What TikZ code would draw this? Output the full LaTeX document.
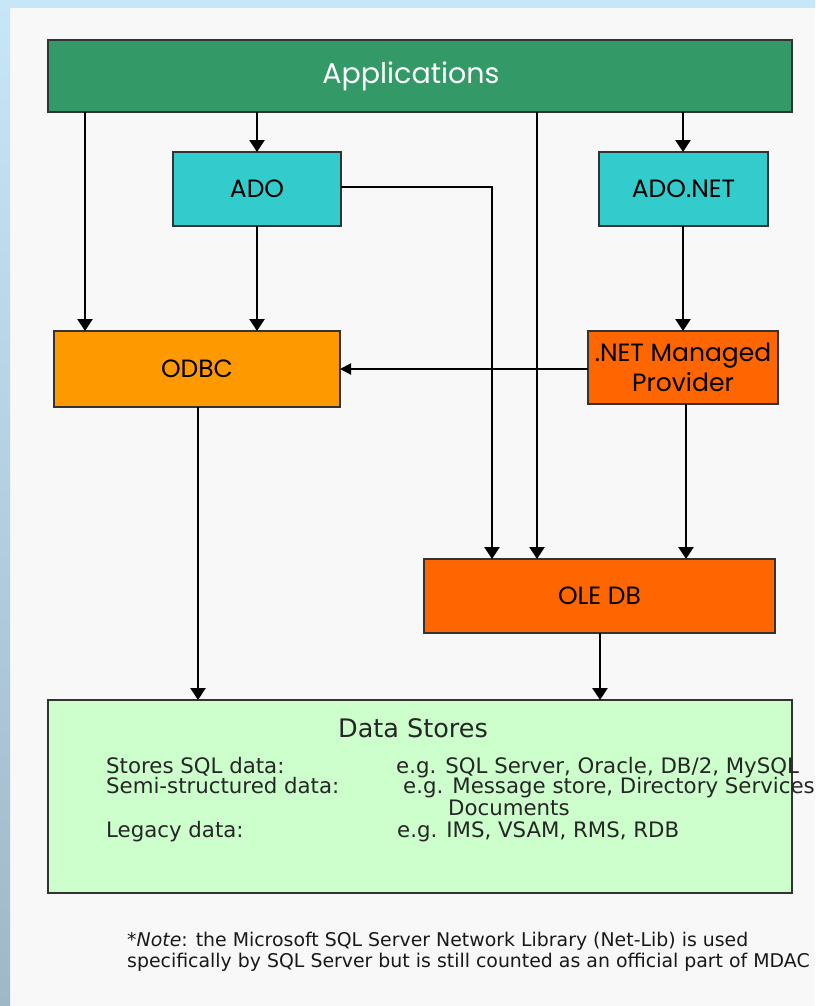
\documentclass[tikz,border=0pt]{standalone}
\usepackage{fontspec}
\setmainfont{DejaVu Sans}
\newfontfamily\boxfont{Poppins}
\usetikzlibrary{arrows.meta}

\definecolor{panel}{HTML}{F8F8F8}
\definecolor{frametop}{HTML}{C7E6F8}
\definecolor{framebot}{HTML}{9FB8C8}
\definecolor{appgreen}{HTML}{339966}
\definecolor{adocyan}{HTML}{33CCCC}
\definecolor{odbcorange}{HTML}{FF9900}
\definecolor{oleorange}{HTML}{FF6600}
\definecolor{storegreen}{HTML}{CCFFCC}
\definecolor{edge}{HTML}{333333}

\tikzset{
  layer/.style={draw=edge, line width=1.5pt, inner sep=0pt, outer sep=0pt,
    font=\boxfont\fontsize{25}{30}\selectfont, align=center},
  flow/.style={line width=2.7pt, -{Triangle[length=12pt,width=15pt]}},
  thinflow/.style={line width=2pt, -{Triangle[length=11pt,width=11pt]}},
  storetext/.style={anchor=base west, inner sep=0pt, font=\fontsize{21.3}{24}\selectfont, text=black!85},
  notetext/.style={anchor=base west, inner sep=0pt, font=\fontsize{18.9}{22}\selectfont, text=black!90}
}

\begin{document}
\begin{tikzpicture}[x=1pt, y=-1pt]
  % page frame: light blue strips on the top and left edges
  \useasboundingbox (0,0) rectangle (815,1006);
  \fill[panel] (0,0) rectangle (815,1006);
  \fill[frametop] (0,0) rectangle (815,8);
  \shade[top color=frametop, bottom color=framebot] (0,0) rectangle (10,1006);

  % layers
  \node[layer, fill=appgreen, minimum width=744pt, minimum height=72pt] (apps) at (420,76) {};
  \node[inner sep=0pt, text=white, font=\boxfont\fontsize{28.5}{30}\selectfont] (appslabel) at (411,76) {Applications};
  \node[layer, fill=adocyan, minimum width=168pt, minimum height=74pt] (ado) at (257,189) {ADO};
  \node[layer, fill=adocyan, minimum width=169pt, minimum height=74pt] (adonet) at (683.5,189) {ADO.NET};
  \node[layer, fill=odbcorange, minimum width=286pt, minimum height=76pt] (odbc) at (197,369) {ODBC};
  \node[layer, fill=oleorange, minimum width=190pt, minimum height=73pt] (prov) at (683,367.5) {.NET Managed\\Provider};
  \node[layer, fill=oleorange, minimum width=351pt, minimum height=74pt] (oledb) at (599.5,596) {OLE DB};
  \node[layer, fill=storegreen, minimum width=744pt, minimum height=193pt] (ds) at (420,796.5) {};

  % columns used by the vertical connectors
  \coordinate (c1) at (85,0);
  \coordinate (c2) at (257,0);
  \coordinate (c3) at (492,0);
  \coordinate (c4) at (537,0);
  \coordinate (c5) at (683,0);
  \coordinate (c6) at (686,0);
  \coordinate (c7) at (198,0);
  \coordinate (c8) at (600,0);
  \coordinate (r1) at (0,187);

  % connectors
  \draw[flow] (apps.south -| c1) -- (odbc.north -| c1);
  \draw[flow] (apps.south -| c2) -- (ado.north);
  \draw[flow] (apps.south -| c4) -- (oledb.north -| c4);
  \draw[flow] (apps.south -| c5) -- (adonet.north -| c5);
  \draw[flow] (ado.south) -- (odbc.north -| c2);
  \draw[flow] (ado.east |- r1) -| (oledb.north -| c3);
  \draw[flow] (adonet.south -| c5) -- (prov.north -| c5);
  \draw[thinflow] (prov.west |- odbc.east) -- (odbc.east);
  \draw[flow] (prov.south -| c6) -- (oledb.north -| c6);
  \draw[flow] (odbc.south -| c7) -- (ds.north -| c7);
  \draw[flow] (oledb.south -| c8) -- (ds.north -| c8);

  % data store contents
  \node[anchor=base, inner sep=0pt, font=\fontsize{25.5}{30}\selectfont, text=black!85] (dstitle) at (413,737) {Data Stores};
  \node[storetext] (k1) at (106,773) {Stores SQL data:};
  \node[storetext] (k2) at (106,793) {Semi-structured data:};
  \node[storetext] (k3) at (106,837) {Legacy data:};
  \node[storetext] (v1) at (396,773) {e.g. SQL Server, Oracle, DB/2, MySQL};
  \node[storetext] (v2) at (403,793) {e.g. Message store, Directory Services};
  \node[storetext] (v2b) at (448,815) {Documents};
  \node[storetext] (v3) at (397,837) {e.g. IMS, VSAM, RMS, RDB};

  % footnote
  \node[notetext] (n1) at (127,946) {*\emph{Note}: the Microsoft SQL Server Network Library (Net-Lib) is used};
  \node[notetext] (n2) at (127,967) {specifically by SQL Server but is still counted as an official part of MDAC};
\end{tikzpicture}
\end{document}
